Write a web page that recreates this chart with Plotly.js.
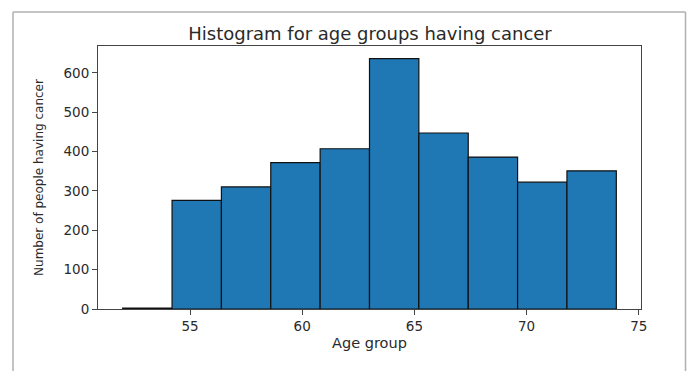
<!DOCTYPE html>
<html>
<head>
<meta charset="utf-8">
<script src="https://cdn.plot.ly/plotly-3.0.1.min.js"></script>
<style>
html,body{margin:0;padding:0;background:#fff;}
#chart{width:688px;height:371px;}
</style>
</head>
<body>
<div id="chart"></div>
<script>
// Histogram bin edges (age) and counts per bin
const binEdges = [52.0, 54.2, 56.4, 58.6, 60.8, 63.0, 65.2, 67.4, 69.6, 71.8, 74.0];
const counts = [2, 276, 310, 372, 407, 636, 447, 386, 322, 351];
const xTickVals = [55, 60, 65, 70, 75];
const yTickVals = [0, 100, 200, 300, 400, 500, 600];
const chartTitle = "Histogram for age groups having cancer";
const xLabel = "Age group";
const yLabel = "Number of people having cancer";

const lefts = binEdges.slice(0, -1);
const widths = lefts.map((e, i) => binEdges[i + 1] - e);

const trace = {
  type: 'bar',
  x: lefts,
  y: counts,
  width: widths,
  offset: 0,
  marker: {color: '#1f77b4', line: {color: '#111111', width: 1.2}},
  hoverinfo: 'x+y'
};

const W = 543, H = 263; // plot area px
const px = v => (v - 98) / W;
const py = v => (309 - v) / H;
const frameColor = '#b0b0b0';

const layout = {
  width: 688, height: 371,
  margin: {l: 98, r: 47, t: 46, b: 62},
  paper_bgcolor: '#fff', plot_bgcolor: '#fff',
  font: {family: 'DejaVu Sans, sans-serif', color: '#2a2a2a'},
  showlegend: false,
  title: {
    text: chartTitle,
    font: {size: 18, color: '#2a2a2a', family: 'DejaVu Sans, sans-serif'},
    x: 0.5378, xanchor: 'center', xref: 'container',
    y: 1 - 34 / 371, yanchor: 'middle', yref: 'container'
  },
  xaxis: {
    range: [50.9, 75.1],
    tickvals: xTickVals,
    ticks: 'outside', ticklen: 5, tickwidth: 1, tickcolor: '#444',
    tickfont: {size: 13.5, color: '#2a2a2a'},
    showgrid: false, zeroline: false,
    showline: true, linecolor: '#444', linewidth: 1, mirror: true,
    title: {text: xLabel, font: {size: 14.5, color: '#2a2a2a'}, standoff: 4}
  },
  yaxis: {
    range: [0, 668],
    tickvals: yTickVals,
    ticks: 'outside', ticklen: 5, tickwidth: 1, tickcolor: '#444',
    tickfont: {size: 13.5, color: '#2a2a2a'},
    showgrid: false, zeroline: false,
    showline: true, linecolor: '#444', linewidth: 1, mirror: true,
    title: {text: yLabel, font: {size: 12, color: '#2a2a2a'}, standoff: 17}
  },
  bargap: 0,
  shapes: [
    {type: 'line', xref: 'paper', yref: 'paper', x0: px(13), x1: px(13), y0: py(12), y1: py(380), line: {color: frameColor, width: 1.5}},
    {type: 'line', xref: 'paper', yref: 'paper', x0: px(13), x1: px(685.5), y0: py(12), y1: py(12), line: {color: frameColor, width: 1.5}},
    {type: 'line', xref: 'paper', yref: 'paper', x0: px(685.5), x1: px(685.5), y0: py(12), y1: py(380), line: {color: frameColor, width: 1.5}}
  ]
};

Plotly.newPlot('chart', [trace], layout, {displayModeBar: false, staticPlot: true});
</script>
</body>
</html>
